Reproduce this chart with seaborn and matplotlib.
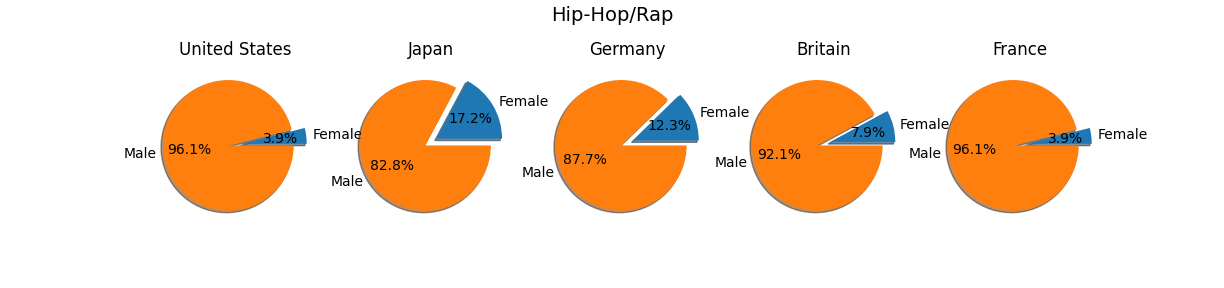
import matplotlib
matplotlib.use("Agg")
import matplotlib.pyplot as plt
import seaborn as sns

countries = ["United States", "Japan", "Germany", "Britain", "France"]
genders = ["Female", "Male"]
female_pct = [3.9, 17.2, 12.3, 7.9, 3.9]
male_pct = [96.1, 82.8, 87.7, 92.1, 96.1]
genre = "Hip-Hop/Rap"

colors = sns.color_palette("tab10")[:2]

fig, axes = plt.subplots(1, 5, figsize=(12.24, 2.88), dpi=100)
for ax, country, f, m in zip(axes, countries, female_pct, male_pct):
    ax.pie([f, m], labels=genders, autopct="%1.1f%%", explode=(0.2, 0),
           shadow=True, startangle=0, colors=colors)
    # centre the view on the drawn wedges (exploded slice included)
    (x0, y0), (x1, y1) = ax.dataLim.get_points()
    cx, cy = (x0 + x1) / 2, (y0 + y1) / 2
    ax.set_xlim(cx - 1.25, cx + 1.25)
    ax.set_ylim(cy - 1.25, cy + 1.25)
    ax.set_title(country, fontsize=12)
fig.suptitle(genre, fontsize=14)
fig.savefig("out.png", dpi=100)
